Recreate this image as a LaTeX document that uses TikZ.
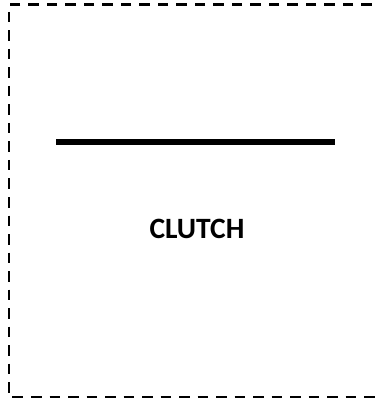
\documentclass[tikz,border=0pt]{standalone}
\usepackage{fontspec}
\setmainfont{Carlito}
\usetikzlibrary{positioning}

\begin{document}
\begin{tikzpicture}[
            x=1pt, y=-1pt,
            frame/.style={draw=black, line width=2.4pt, dash pattern=on 10.5pt off 8pt},
            plate/.style={draw=black, line width=5.5pt},
            caption/.style={font=\fontsize{29.5}{32}\selectfont\bfseries, inner sep=0pt}
        ]
        \useasboundingbox (0,0) rectangle (379,403);

        % Rahmen (rechts offen)
        \coordinate (tr) at (390,4.5);
        \coordinate (tl) at (9,4.5);
        \coordinate (bl) at (9,397);
        \coordinate (br) at (390,397);
        \draw[frame] (tr) -- (tl) -- (bl) -- (br);

        % Scheibe
        \coordinate (plateL) at (56,142);
        \coordinate (plateR) at (335,142);
        \draw[plate] (plateL) -- (plateR);

        % Beschriftung
        \node[caption] (clutch) at (197,229) {CLUTCH};

    \end{tikzpicture}
\end{document}
